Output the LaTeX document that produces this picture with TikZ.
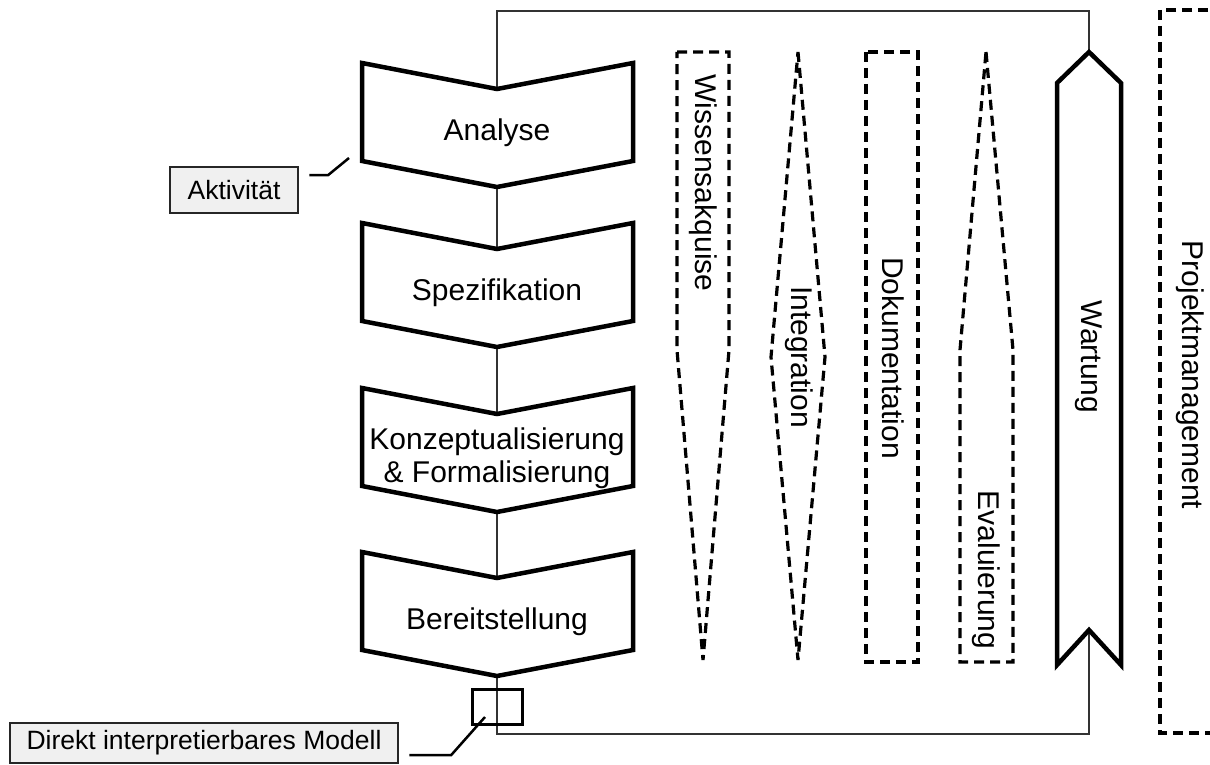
\documentclass[tikz,border=0pt]{standalone}
\usepackage{fontspec}
\setmainfont{Liberation Sans}
\begin{document}
\begin{tikzpicture}[x=1pt,y=-1pt,
  chev/.style={draw=black,line width=4.5pt,fill=white,line join=miter},
  lbl/.style={font=\fontsize{30}{33}\selectfont,align=center,inner sep=0pt},
  vlbl/.style={font=\fontsize{30}{33}\selectfont,rotate=-90,inner sep=0pt},
  dsh/.style={draw=black,line width=3.2pt,dash pattern=on 10pt off 6pt},
  note/.style={draw=black!85,line width=2.5pt,fill=black!6,font=\fontsize{26.5}{30}\selectfont,inner sep=0pt},
  thinln/.style={draw=black!80,line width=1.6pt},
  lead/.style={draw=black,line width=2.5pt}]
\useasboundingbox (0,0) rectangle (1210,765);

% frame (thin process loop)
\coordinate (ftl) at (497,11);
\coordinate (ftr) at (1089,11);
\coordinate (fbr) at (1089,734);
\coordinate (fbl) at (497,734);
\draw[thinln] (ftl) -- (ftr) -- (fbr) -- (fbl) -- cycle;

% chevrons
\foreach \t/\nm/\txt in {63/ana/Analyse, 223/spe/Spezifikation, 388/kon/{Konzeptualisierung\\\& Formalisierung}, 552/ber/Bereitstellung}{
  \draw[chev] (362,\t) -- (497,\t+26) -- (633,\t) -- (633,\t+98) -- (497,\t+124) -- (362,\t+98) -- cycle;
  \node[lbl] (\nm) at (497,\t+70) {\txt};
}

% model box
\node[draw=black,line width=3pt,minimum width=50pt,minimum height=35pt,inner sep=0pt] (mbox) at (497,706.5) {};

% dashed activities
\draw[dsh] (677,52) -- (729,52) -- (729,350) -- (703,660) -- (677,350) -- cycle;
\node[vlbl] (wis) at (703,183) {Wissensakquise};
\draw[dsh] (798,52) -- (825,357) -- (798,660) -- (771,357) -- cycle;
\node[vlbl] (int) at (799,357) {Integration};
\draw[dsh] (866,52) rectangle (918,662);
\node[vlbl] (dok) at (893,358) {Dokumentation};
\draw[dsh] (986,52) -- (1013,350) -- (1013,662) -- (960,662) -- (960,350) -- cycle;
\node[vlbl] (eva) at (986,570) {Evaluierung};

% Wartung
\draw[chev] (1089,52) -- (1121,83) -- (1121,665) -- (1089,630) -- (1057,665) -- (1057,83) -- cycle;
\node[vlbl] (war) at (1089,357) {Wartung};

% Projektmanagement
\draw[dsh] (1160,10) rectangle (1245,733);
\node[vlbl] (pm) at (1190,375) {Projektmanagement};

% notes
\node[note,minimum width=128pt,minimum height=46pt] (akt) at (234,190) {Aktivität};
\coordinate (akttip) at (349,158);
\draw[lead] ([xshift=10pt,yshift=15pt]akt.east) -- ++(19,0) -- (akttip);

\node[note,minimum width=388pt,minimum height=40pt] (dim) at (204,743) {Direkt interpretierbares Modell};
\coordinate (mtip) at (485,717);
\draw[lead] ([xshift=10pt,yshift=-12pt]dim.east) -- ++(42,0) -- (mtip);
\end{tikzpicture}
\end{document}
